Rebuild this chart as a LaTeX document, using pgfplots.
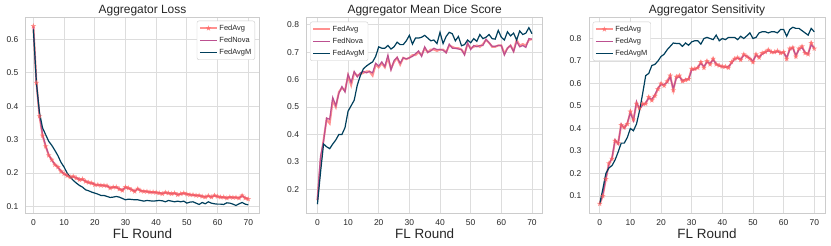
\documentclass[border=0pt]{standalone}
\usepackage{fontspec}
\setmainfont{Liberation Sans}
\usepackage{pgfplots}
\usepackage{pgfplotstable}
\pgfplotsset{compat=1.18}
\definecolor{cavg}{HTML}{FF6361}
\definecolor{cnova}{HTML}{BC5090}
\definecolor{cm}{HTML}{003F5C}
\definecolor{gridc}{HTML}{DDDDDD}
\definecolor{framec}{HTML}{CCCCCC}
\definecolor{txt}{HTML}{262626}

\pgfdeclareplotmark{fstar}{%
  \pgfpathmoveto{\pgfpointpolar{90}{\pgfplotmarksize}}%
  \pgfpathlineto{\pgfpointpolar{126}{0.42\pgfplotmarksize}}%
  \pgfpathlineto{\pgfpointpolar{162}{\pgfplotmarksize}}%
  \pgfpathlineto{\pgfpointpolar{198}{0.42\pgfplotmarksize}}%
  \pgfpathlineto{\pgfpointpolar{234}{\pgfplotmarksize}}%
  \pgfpathlineto{\pgfpointpolar{270}{0.42\pgfplotmarksize}}%
  \pgfpathlineto{\pgfpointpolar{306}{\pgfplotmarksize}}%
  \pgfpathlineto{\pgfpointpolar{342}{0.42\pgfplotmarksize}}%
  \pgfpathlineto{\pgfpointpolar{18}{\pgfplotmarksize}}%
  \pgfpathlineto{\pgfpointpolar{54}{0.42\pgfplotmarksize}}%
  \pgfpathclose\pgfusepathqfill}

\pgfplotstableread{
x avg nova m
0 0.640 0.636 0.630
1 0.470 0.468 0.470
2 0.370 0.372 0.380
3 0.312 0.315 0.335
4 0.280 0.282 0.315
5 0.253 0.255 0.295
6 0.240 0.238 0.283
7 0.225 0.227 0.268
8 0.218 0.216 0.252
9 0.205 0.207 0.232
10 0.198 0.197 0.218
11 0.192 0.193 0.200
12 0.188 0.187 0.188
13 0.190 0.189 0.178
14 0.185 0.186 0.170
15 0.180 0.181 0.163
16 0.182 0.180 0.158
17 0.175 0.176 0.150
18 0.172 0.171 0.147
19 0.170 0.170 0.143
20 0.165 0.166 0.140
21 0.165 0.164 0.137
22 0.163 0.164 0.133
23 0.163 0.162 0.133
24 0.162 0.161 0.130
25 0.155 0.156 0.127
26 0.158 0.158 0.128
27 0.158 0.157 0.130
28 0.152 0.153 0.128
29 0.148 0.149 0.124
30 0.158 0.157 0.120
31 0.155 0.154 0.122
32 0.150 0.151 0.121
33 0.145 0.146 0.120
34 0.153 0.152 0.120
35 0.147 0.147 0.118
36 0.145 0.146 0.116
37 0.145 0.144 0.118
38 0.143 0.143 0.117
39 0.143 0.142 0.116
40 0.142 0.142 0.117
41 0.140 0.141 0.118
42 0.138 0.139 0.117
43 0.142 0.141 0.114
44 0.140 0.140 0.118
45 0.138 0.139 0.116
46 0.140 0.139 0.114
47 0.135 0.136 0.116
48 0.138 0.137 0.114
49 0.140 0.139 0.116
50 0.137 0.137 0.110
51 0.135 0.136 0.113
52 0.135 0.134 0.114
53 0.133 0.133 0.110
54 0.133 0.132 0.106
55 0.130 0.131 0.112
56 0.128 0.129 0.108
57 0.132 0.131 0.114
58 0.128 0.129 0.110
59 0.133 0.132 0.108
60 0.130 0.130 0.107
61 0.128 0.128 0.107
62 0.128 0.127 0.106
63 0.125 0.126 0.111
64 0.128 0.128 0.110
65 0.127 0.126 0.107
66 0.127 0.127 0.103
67 0.125 0.126 0.108
68 0.133 0.131 0.112
69 0.125 0.126 0.107
70 0.122 0.123 0.105
}\losstab

\pgfplotstableread{
x avg nova m
0 0.160 0.160 0.145
1 0.300 0.320 0.260
2 0.380 0.375 0.365
3 0.455 0.460 0.355
4 0.440 0.455 0.348
5 0.525 0.535 0.365
6 0.500 0.505 0.380
7 0.555 0.550 0.400
8 0.570 0.575 0.400
9 0.560 0.555 0.425
10 0.615 0.620 0.485
11 0.580 0.590 0.505
12 0.625 0.630 0.525
13 0.615 0.610 0.580
14 0.620 0.625 0.615
15 0.625 0.630 0.640
16 0.630 0.625 0.650
17 0.630 0.630 0.658
18 0.615 0.625 0.665
19 0.655 0.660 0.685
20 0.645 0.650 0.720
21 0.660 0.665 0.715
22 0.645 0.648 0.715
23 0.680 0.690 0.725
24 0.640 0.635 0.712
25 0.665 0.670 0.720
26 0.680 0.682 0.737
27 0.655 0.660 0.728
28 0.680 0.680 0.728
29 0.675 0.676 0.742
30 0.680 0.680 0.762
31 0.690 0.685 0.730
32 0.690 0.695 0.752
33 0.700 0.705 0.752
34 0.690 0.685 0.755
35 0.715 0.720 0.762
36 0.700 0.700 0.752
37 0.710 0.705 0.742
38 0.710 0.715 0.745
39 0.705 0.710 0.732
40 0.710 0.710 0.773
41 0.710 0.708 0.732
42 0.700 0.698 0.758
43 0.725 0.730 0.773
44 0.720 0.715 0.768
45 0.715 0.715 0.742
46 0.715 0.712 0.758
47 0.710 0.710 0.724
48 0.695 0.690 0.728
49 0.730 0.735 0.745
50 0.715 0.710 0.735
51 0.720 0.725 0.750
52 0.725 0.720 0.740
53 0.720 0.725 0.765
54 0.730 0.725 0.750
55 0.745 0.748 0.755
56 0.735 0.735 0.765
57 0.720 0.722 0.750
58 0.720 0.722 0.748
59 0.725 0.725 0.780
60 0.725 0.725 0.755
61 0.695 0.690 0.745
62 0.715 0.715 0.775
63 0.725 0.725 0.760
64 0.705 0.702 0.770
65 0.745 0.740 0.745
66 0.725 0.720 0.778
67 0.730 0.725 0.765
68 0.725 0.718 0.770
69 0.745 0.750 0.790
70 0.748 0.748 0.768
}\dicetab

\pgfplotstableread{
x avg nova m
0 0.065 0.068 0.065
1 0.100 0.105 0.130
2 0.175 0.180 0.200
3 0.245 0.240 0.225
4 0.265 0.270 0.235
5 0.345 0.350 0.260
6 0.335 0.330 0.295
7 0.415 0.420 0.335
8 0.405 0.400 0.335
9 0.420 0.425 0.360
10 0.475 0.470 0.400
11 0.440 0.435 0.390
12 0.510 0.520 0.420
13 0.490 0.485 0.480
14 0.510 0.505 0.555
15 0.510 0.515 0.635
16 0.540 0.535 0.645
17 0.525 0.530 0.680
18 0.545 0.550 0.685
19 0.575 0.580 0.700
20 0.600 0.595 0.720
21 0.590 0.595 0.730
22 0.610 0.605 0.750
23 0.635 0.630 0.765
24 0.570 0.575 0.780
25 0.630 0.625 0.778
26 0.635 0.630 0.778
27 0.610 0.612 0.765
28 0.615 0.620 0.780
29 0.620 0.618 0.770
30 0.665 0.660 0.785
31 0.665 0.662 0.790
32 0.670 0.672 0.790
33 0.695 0.690 0.775
34 0.670 0.675 0.800
35 0.700 0.695 0.805
36 0.685 0.690 0.800
37 0.710 0.705 0.795
38 0.685 0.688 0.815
39 0.680 0.678 0.790
40 0.675 0.676 0.800
41 0.675 0.672 0.795
42 0.670 0.675 0.805
43 0.695 0.690 0.805
44 0.710 0.708 0.805
45 0.715 0.712 0.795
46 0.705 0.708 0.810
47 0.730 0.725 0.800
48 0.720 0.722 0.812
49 0.710 0.712 0.825
50 0.695 0.700 0.800
51 0.730 0.726 0.805
52 0.715 0.718 0.825
53 0.735 0.730 0.830
54 0.740 0.738 0.830
55 0.750 0.745 0.825
56 0.740 0.742 0.830
57 0.740 0.738 0.830
58 0.745 0.742 0.825
59 0.735 0.738 0.840
60 0.740 0.738 0.840
61 0.710 0.715 0.810
62 0.755 0.750 0.840
63 0.760 0.758 0.850
64 0.720 0.725 0.845
65 0.755 0.750 0.845
66 0.765 0.760 0.835
67 0.735 0.738 0.825
68 0.730 0.732 0.815
69 0.780 0.772 0.845
70 0.755 0.758 0.830
}\senstab

\pgfplotsset{
  myax/.style={
    scale only axis, height=196bp,
    xmin=-3.5, xmax=73.5, xtick={0,10,...,70},
    grid=major, major grid style={gridc, line width=0.9bp},
    axis line style={framec, line width=1bp},
    major tick length=0pt,
    /pgf/number format/assume math mode=true,
    tick label style={font=\fontsize{8.5}{10}\selectfont, text=txt},
    xticklabel style={anchor=base, yshift=-12bp},
    yticklabel style={anchor=east, inner sep=0pt, xshift=-7.5bp, /pgf/number format/.cd, fixed, fixed zerofill, precision=1},
    every axis title shift=0pt,
    title style={font=\fontsize{12}{14}\selectfont, text=txt, anchor=south, inner sep=0.5bp, at={(0.5,1)}},
    xlabel={FL Round},
    xlabel style={font=\fontsize{13.5}{16}\selectfont, text=txt, at={(axis description cs:0.5,0)}, anchor=base, yshift=-25.7bp},
    legend cell align=left,
    legend style={font=\fontsize{7.5}{9}\selectfont, text=txt, draw=framec, rounded corners=2bp, fill=white, row sep=1.2bp, inner xsep=2bp, inner ysep=2bp, nodes={inner sep=1.5bp, text height=6bp, text depth=1.8bp}},
    legend image code/.code={\draw[mark repeat=2,mark phase=2,##1] plot coordinates {(0bp,0bp) (8.5bp,0bp) (17bp,0bp)};},
  },
  avgstyle/.style={color=cavg, line width=2bp, opacity=0.7},
  novastyle/.style={color=cnova, line width=1.2bp, no marks},
  mstyle/.style={color=cm, line width=1.2bp, no marks},
}

\begin{document}
\begin{tikzpicture}
\useasboundingbox (0,0) rectangle (831bp,246bp);
% Panel 1
\begin{axis}[myax, at={(26bp,33bp)}, anchor=south west, width=233bp,
  xmin=-2.4, ymin=0.0805, ymax=0.667, ytick={0.1,0.2,...,0.61},
  title={Aggregator Loss},
  legend style={at={(1,1)}, anchor=north east, xshift=-4bp, yshift=-3.7bp}]
\addplot[avgstyle, mark=fstar, mark size=2.9bp] table[x=x, y=avg] {\losstab};
\addplot[novastyle] table[x=x, y=nova] {\losstab};
\addplot[mstyle] table[x=x, y=m] {\losstab};
\legend{FedAvg, FedNova, FedAvgM}
\end{axis}
% Panel 2
\begin{axis}[myax, at={(306.7bp,33bp)}, anchor=south west, width=236bp,
  ymin=0.113, ymax=0.829, ytick={0.2,0.3,...,0.81},
  title={Aggregator Mean Dice Score},
  legend style={at={(0,1)}, anchor=north west, xshift=3.3bp, yshift=-4.7bp}]
\addplot[avgstyle, no marks] table[x=x, y=avg] {\dicetab};
\addplot[novastyle] table[x=x, y=nova] {\dicetab};
\addplot[mstyle] table[x=x, y=m] {\dicetab};
\legend{FedAvg, FedNova, FedAvgM}
\end{axis}
% Panel 3
\begin{axis}[myax, at={(589bp,33bp)}, anchor=south west, width=236bp,
  ymin=0.0244, ymax=0.8956, ytick={0.1,0.2,...,0.81},
  title={Aggregator Sensitivity},
  legend style={at={(0,1)}, anchor=north west, xshift=3.7bp, yshift=-4.7bp}]
\addplot[avgstyle, mark=fstar, mark size=2.9bp] table[x=x, y=avg] {\senstab};
\addplot[novastyle] table[x=x, y=nova] {\senstab};
\addplot[mstyle] table[x=x, y=m] {\senstab};
\legend{FedAvg, FedAvg, FedAvgM}
\end{axis}
\end{tikzpicture}
\end{document}
